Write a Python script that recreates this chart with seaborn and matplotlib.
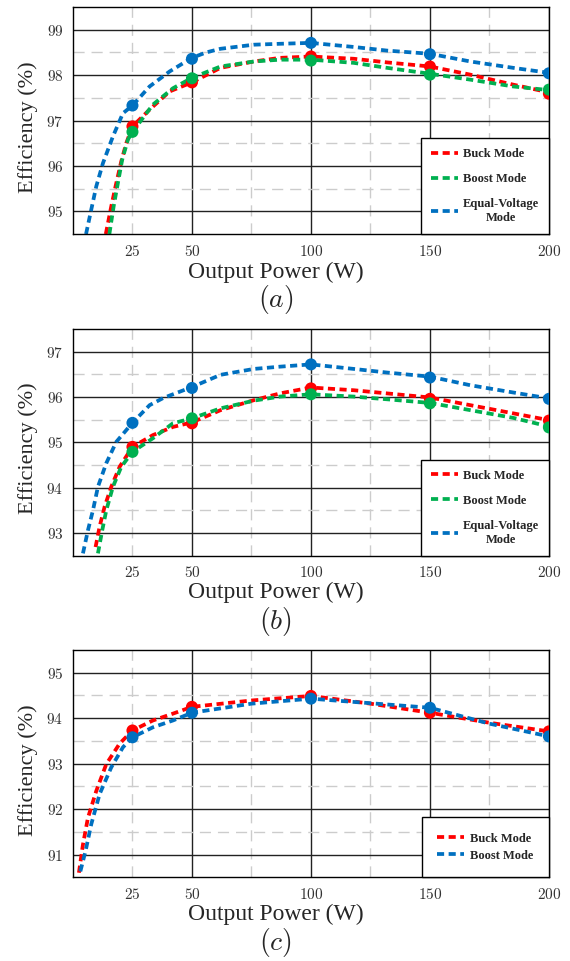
import matplotlib
matplotlib.use("Agg")
import matplotlib.pyplot as plt
import seaborn as sns

# measured operating points (W)
power = [25, 50, 100, 150, 200]

# (a) efficiency at the measured points (%)
a_buck = [96.87, 97.84, 98.41, 98.19, 97.59]
a_boost = [96.75, 97.93, 98.32, 98.01, 97.68]
a_equal = [97.33, 98.36, 98.71, 98.46, 98.04]

# (a) fitted curves
a_buck_cx = [13.8, 16.1, 17.9, 20.3, 22.4, 25, 32.2, 40.6, 50, 62, 76, 87, 100, 118, 132, 150, 167, 185, 200]
a_buck_cy = [94.5, 95.11, 95.55, 96.1, 96.5, 96.87, 97.24, 97.64, 97.84, 98.16, 98.30, 98.38, 98.41,
             98.36, 98.28, 98.19, 98.01, 97.79, 97.62]
a_boost_cx = [15.3, 17.1, 18.9, 20.7, 23.1, 25, 33.6, 42, 50, 62, 76, 87, 100, 118, 132, 150, 167, 185, 200]
a_boost_cy = [94.5, 95.11, 95.63, 96.14, 96.58, 96.75, 97.35, 97.71, 97.94, 98.19, 98.30, 98.34, 98.34,
              98.27, 98.16, 98.03, 97.90, 97.75, 97.67]
a_equal_cx = [5.5, 7.7, 9.8, 12.6, 16.8, 21, 25, 32.2, 40.6, 50, 56, 62, 76, 87, 100, 118, 132, 150, 167, 185, 200]
a_equal_cy = [94.5, 95.04, 95.55, 96.06, 96.65, 97.16, 97.33, 97.75, 98.08, 98.38, 98.50, 98.58, 98.67,
              98.69, 98.71, 98.62, 98.54, 98.47, 98.30, 98.16, 98.05]

# (b)
b_buck = [94.90, 95.42, 96.19, 95.96, 95.48]
b_boost = [94.79, 95.53, 96.06, 95.86, 95.33]
b_equal = [95.43, 96.20, 96.72, 96.43, 95.96]

b_buck_cx = [9.5, 11.2, 13.3, 16.1, 19.6, 25, 33.6, 42, 50, 62, 76, 87, 100, 118, 132, 150, 167, 185, 200]
b_buck_cy = [92.69, 93.14, 93.58, 94.02, 94.46, 94.9, 95.16, 95.34, 95.44, 95.71, 95.93, 96.08, 96.21,
             96.15, 96.08, 95.99, 95.82, 95.64, 95.49]
b_boost_cx = [10.5, 12.3, 14, 16.8, 20.3, 25, 33.6, 42, 50, 62, 76, 87, 100, 118, 132, 150, 167, 185, 200]
b_boost_cy = [92.55, 93.06, 93.5, 94.02, 94.46, 94.79, 95.09, 95.42, 95.53, 95.75, 95.92, 96.01, 96.06,
              96.01, 95.95, 95.87, 95.71, 95.54, 95.35]
b_equal_cx = [4.2, 6.3, 8.4, 10.5, 14, 18.2, 25, 32.2, 38, 50, 62, 76, 87, 100, 118, 132, 150, 167, 185, 200]
b_equal_cy = [92.55, 93.06, 93.5, 94.02, 94.54, 95.01, 95.43, 95.82, 95.98, 96.22, 96.49, 96.62, 96.67,
              96.72, 96.62, 96.54, 96.45, 96.26, 96.10, 95.97]

# (c)
c_buck = [93.73, 94.25, 94.49, 94.12, 93.71]
c_boost = [93.58, 94.12, 94.43, 94.23, 93.60]

c_buck_cx = [2.5, 4.2, 6.3, 9.8, 14, 19.6, 25, 33.6, 42, 50, 75, 100, 125, 150, 175, 200]
c_buck_cy = [90.6, 91.22, 91.81, 92.4, 92.99, 93.44, 93.73, 93.95, 94.1, 94.25, 94.39, 94.49, 94.32,
             94.12, 93.9, 93.71]
c_boost_cx = [3.1, 5.3, 7.7, 11.2, 16.1, 21, 25, 33.6, 42, 50, 75, 100, 125, 150, 175, 200]
c_boost_cy = [90.63, 91.08, 91.67, 92.33, 92.92, 93.36, 93.58, 93.8, 93.95, 94.12, 94.32, 94.43, 94.33,
              94.23, 93.88, 93.6]

RED = '#ff0000'
GREEN = '#00b050'
BLUE = '#0070c0'

sns.set_style('white')
plt.rcParams['font.family'] = ['Liberation Serif', 'DejaVu Serif']
plt.rcParams['mathtext.fontset'] = 'cm'


def draw_panel(ax, series, ylim, legend_kw):
    for label, color, cx, cy, py in series:
        sns.lineplot(x=cx, y=cy, color=color, lw=2.7, label=label,
                     linestyle=(0, (1.9, 1.2)), estimator=None, ax=ax)
        sns.scatterplot(x=power, y=py, color=color, s=75, edgecolor='none',
                        zorder=4, ax=ax)

    ax.set_xlim(0, 200)
    ax.set_ylim(*ylim)
    ax.set_xticks([50, 100, 150, 200])
    ax.set_xticks([25, 75, 125, 175], minor=True)
    ax.set_xticklabels(['$50$', '$100$', '$150$', '$200$'])
    ax.set_xticklabels(['$25$', '', '', ''], minor=True)
    lo, hi = int(ylim[0] + 0.5), int(ylim[1] - 0.5)
    ax.set_yticks(range(lo, hi + 1))
    ax.set_yticklabels([f'${v}$' for v in range(lo, hi + 1)])
    ax.set_yticks([v + 0.5 for v in range(lo, hi)], minor=True)
    ax.tick_params(which='both', length=0, pad=7, labelsize=11, labelcolor='#333333')

    ax.grid(which='major', color='#222222', lw=1.0)
    ax.grid(which='minor', color='#cccccc', lw=1.0, linestyle=(0, (8, 5)))
    ax.set_axisbelow(True)
    for sp in ax.spines.values():
        sp.set_color('black')
        sp.set_linewidth(1.0)
    ax.set_xlabel('')
    ax.set_ylabel('')

    leg = ax.legend(loc='lower right', borderaxespad=0, fancybox=False,
                    edgecolor='black', framealpha=1, handlelength=2.1,
                    prop={'weight': 'bold', 'size': 9, 'family': 'Liberation Serif'},
                    **legend_kw)
    leg.get_frame().set_linewidth(1.0)
    for t in leg.get_texts():
        t.set_multialignment('center')


fig = plt.figure(figsize=(5.7, 9.61), dpi=100)
ax_a = fig.add_axes([0.128, 0.7565, 0.835, 0.2362])
ax_b = fig.add_axes([0.128, 0.4218, 0.835, 0.2358])
ax_c = fig.add_axes([0.128, 0.0871, 0.835, 0.2365])

draw_panel(ax_a, [
    ('Buck Mode', RED, a_buck_cx, a_buck_cy, a_buck),
    ('Boost Mode', GREEN, a_boost_cx, a_boost_cy, a_boost),
    ('Equal-Voltage\nMode', BLUE, a_equal_cx, a_equal_cy, a_equal),
], (94.5, 99.5), dict(borderpad=0.8, labelspacing=1.05, handletextpad=0.4))

draw_panel(ax_b, [
    ('Buck Mode', RED, b_buck_cx, b_buck_cy, b_buck),
    ('Boost Mode', GREEN, b_boost_cx, b_boost_cy, b_boost),
    ('Equal-Voltage\nMode', BLUE, b_equal_cx, b_equal_cy, b_equal),
], (92.5, 97.5), dict(borderpad=0.8, labelspacing=1.05, handletextpad=0.4))

draw_panel(ax_c, [
    ('Buck Mode', RED, c_buck_cx, c_buck_cy, c_buck),
    ('Boost Mode', BLUE, c_boost_cx, c_boost_cy, c_boost),
], (90.5, 95.5), dict(borderpad=1.25, labelspacing=0.4, handletextpad=0.5))

for ylab_y, xlab_y, tag_y, tag in [(0.868, 0.717, 0.688, '$(a)$'),
                                   (0.534, 0.384, 0.353, '$(b)$'),
                                   (0.199, 0.048, 0.019, '$(c)$')]:
    fig.text(0.049, ylab_y, 'Efficiency (%)', rotation=90, ha='center', va='center', fontsize=16)
    fig.text(0.484, xlab_y, 'Output Power (W)', ha='center', va='center', fontsize=17)
    fig.text(0.484, tag_y, tag, ha='center', va='center', fontsize=20)

fig.savefig('out.png', dpi=100)
